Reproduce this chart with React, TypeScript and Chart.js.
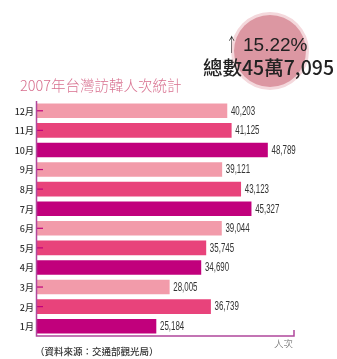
import React, { useEffect, useRef } from "react";
import { Chart, registerables } from "chart.js";

Chart.register(...registerables);

const months = ["12月", "11月", "10月", "9月", "8月", "7月", "6月", "5月", "4月", "3月", "2月", "1月"];
const visitors = [40203, 41125, 48789, 39121, 43123, 45327, 39044, 35745, 34690, 28005, 36739, 25184];
const barColors = [
  "#F29BAA", "#E8437B", "#C1007C",
  "#F29BAA", "#E8437B", "#C1007C",
  "#F29BAA", "#E8437B", "#C1007C",
  "#F29BAA", "#E8437B", "#C1007C",
];
const titleText = "2007年台灣訪韓人次統計";
const growthText = "15.22%";
const totalText = "總數45萬7,095";
const sourceText = "（資料來源：交通部觀光局）";
const unitText = "人次";
const xMax = 54400;

const CJK = "'Noto Sans CJK TC', 'Noto Sans CJK SC', sans-serif";
const AXIS = "#B0479C";

const decor = {
  id: "decor",
  beforeDraw(chart: any) {
    const ctx = chart.ctx;
    ctx.save();
    // circle
    ctx.beginPath();
    ctx.arc(270, 51, 39, 0, Math.PI * 2);
    ctx.fillStyle = "#F4D8DC";
    ctx.fill();
    ctx.beginPath();
    ctx.arc(270, 51, 36, 0, Math.PI * 2);
    ctx.fillStyle = "#DC97A2";
    ctx.fill();
    // title
    ctx.fillStyle = "#D8708F";
    ctx.font = `300 14.5px ${CJK}`;
    ctx.textAlign = "left";
    ctx.textBaseline = "alphabetic";
    ctx.fillText(titleText, 20, 91);
    ctx.restore();
  },
  afterDraw(chart: any) {
    const ctx = chart.ctx;
    const area = chart.chartArea;
    const xs = chart.scales.x;
    const ys = chart.scales.y;
    ctx.save();
    // small ticks over bars
    ctx.strokeStyle = "#C1007C";
    ctx.lineWidth = 1.2;
    months.forEach((_, i) => {
      const y = ys.getPixelForValue(i);
      ctx.beginPath();
      ctx.moveTo(area.left, y);
      ctx.lineTo(area.left + 6, y);
      ctx.stroke();
    });
    // axes
    ctx.strokeStyle = AXIS;
    ctx.lineWidth = 1.5;
    ctx.beginPath();
    ctx.moveTo(area.left - 0.5, area.top);
    ctx.lineTo(area.left - 0.5, area.bottom);
    ctx.lineTo(area.right, area.bottom);
    ctx.lineTo(area.right, area.bottom - 6);
    ctx.stroke();
    // month labels
    ctx.fillStyle = "#333";
    ctx.font = `500 9px ${CJK}`;
    ctx.textAlign = "right";
    ctx.textBaseline = "middle";
    months.forEach((m, i) => {
      ctx.fillText(m, area.left - 3, ys.getPixelForValue(i) + 0.5);
    });
    // value labels (condensed)
    ctx.font = `12px 'Liberation Sans', Arial, sans-serif`;
    ctx.textAlign = "left";
    ctx.fillStyle = "#333";
    const sx = 0.66;
    visitors.forEach((v, i) => {
      const x = xs.getPixelForValue(v) + 4;
      const y = ys.getPixelForValue(i) + 0.5;
      ctx.save();
      ctx.translate(x, y);
      ctx.scale(sx, 1);
      ctx.fillText(v.toLocaleString("en-US"), 0, 0);
      ctx.restore();
    });
    // unit
    ctx.fillStyle = "#555";
    ctx.font = `300 9.5px ${CJK}`;
    ctx.textAlign = "right";
    ctx.textBaseline = "alphabetic";
    ctx.fillText(unitText, area.right - 1, area.bottom + 11);
    // source
    ctx.fillStyle = "#333";
    ctx.font = `500 9.5px ${CJK}`;
    ctx.textAlign = "left";
    ctx.fillText(sourceText, 35, 355);
    // growth
    ctx.fillStyle = "#222";
    ctx.save();
    ctx.font = `300 19px ${CJK}`;
    ctx.translate(226, 52);
    ctx.scale(0.6, 1);
    ctx.fillText("↑", 0, 0);
    ctx.restore();
    ctx.font = `300 19px 'Liberation Sans', Arial, sans-serif`;
    ctx.fillText(growthText, 243, 51);
    ctx.font = `500 19.5px ${CJK}`;
    ctx.textAlign = "right";
    ctx.fillText(totalText, 334, 75);
    ctx.restore();
  },
};

export default function App() {
  const ref = useRef<HTMLCanvasElement>(null);
  useEffect(() => {
    document.body.style.margin = "0";
    const chart = new Chart(ref.current!, {
      type: "bar",
      data: {
        labels: months,
        datasets: [
          {
            data: visitors,
            backgroundColor: barColors,
            borderWidth: 0,
            barThickness: 14,
          },
        ],
      },
      options: {
        indexAxis: "y",
        animation: false,
        responsive: false,
        maintainAspectRatio: false,
        layout: { padding: { left: 37, top: 101, right: 43, bottom: 23 } },
        plugins: { legend: { display: false }, tooltip: { enabled: false }, title: { display: false } },
        scales: {
          x: { display: false, min: 0, max: xMax },
          y: { display: false },
        },
      },
      plugins: [decor],
    });
    return () => chart.destroy();
  }, []);
  return (
    <div style={{ position: "absolute", left: 0, top: 0, width: 337, height: 359, background: "#fff" }}>
      <canvas ref={ref} width={337} height={359} style={{ width: 337, height: 359 }} />
    </div>
  );
}
